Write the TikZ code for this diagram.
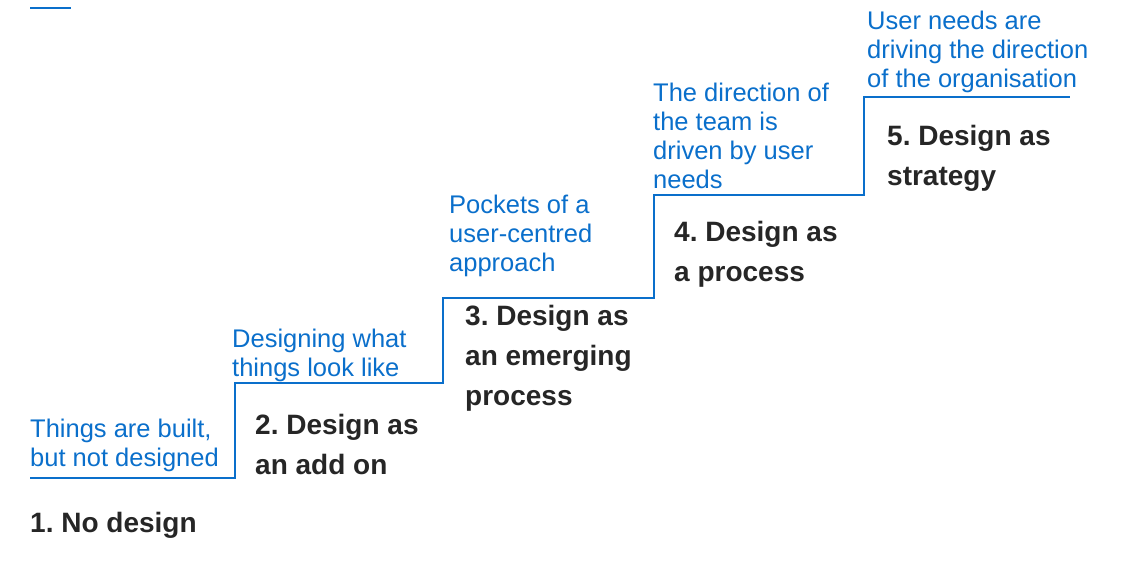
\documentclass[tikz,border=0pt]{standalone}
\usepackage{fontspec}
\setmainfont{Liberation Sans}
\usepackage{tikz}
\usetikzlibrary{positioning}
\definecolor{stepblue}{HTML}{0A6FCB}
\frenchspacing

\begin{document}
\begin{tikzpicture}[x=1pt,y=-1pt,
  need/.style={text=stepblue,font=\fontsize{25.5}{29}\selectfont,align=left,anchor=south west,inner sep=0pt},
  level/.style={text=black!85,font=\fontsize{28}{40}\selectfont\bfseries,align=left,anchor=north west,inner sep=0pt}]
\useasboundingbox (0,0) rectangle (1144,586);
% steps
\coordinate (s0) at (30,478);
\coordinate (s1) at (235,478);
\coordinate (s2) at (235,383);
\coordinate (s3) at (443,383);
\coordinate (s4) at (443,298);
\coordinate (s5) at (654,298);
\coordinate (s6) at (654,195);
\coordinate (s7) at (864,195);
\coordinate (s8) at (864,97);
\coordinate (s9) at (1070,97);
\draw[stepblue,line width=1.6pt] (s0) -- (s1) -- (s2) -- (s3) -- (s4) -- (s5) -- (s6) -- (s7) -- (s8) -- (s9);
\coordinate (t0) at (30,8);
\coordinate (t1) at (71,8);
\draw[stepblue,line width=1.6pt] (t0) -- (t1);
% user needs
\node[need] (n1) at (30,472) {Things are built,\\but not designed};
\node[need] (n2) at (232,382) {Designing what\\things look like};
\node[need] (n3) at (449,277) {Pockets of a\\user-centred\\approach};
\node[need] (n4) at (653,189) {The direction of\\the team is\\driven by user\\needs};
\node[need] (n5) at (867,93) {User needs are\\driving the direction\\of the organisation};
% levels
\node[level] (l1) at (30,512) {1. No design};
\node[level] (l2) at (255,414) {2. Design as\\an add on};
\node[level] (l3) at (465,305) {3. Design as\\an emerging\\process};
\node[level] (l4) at (674,221) {4. Design as\\a process};
\node[level] (l5) at (887,125) {5. Design as\\strategy};
\end{tikzpicture}
\end{document}
